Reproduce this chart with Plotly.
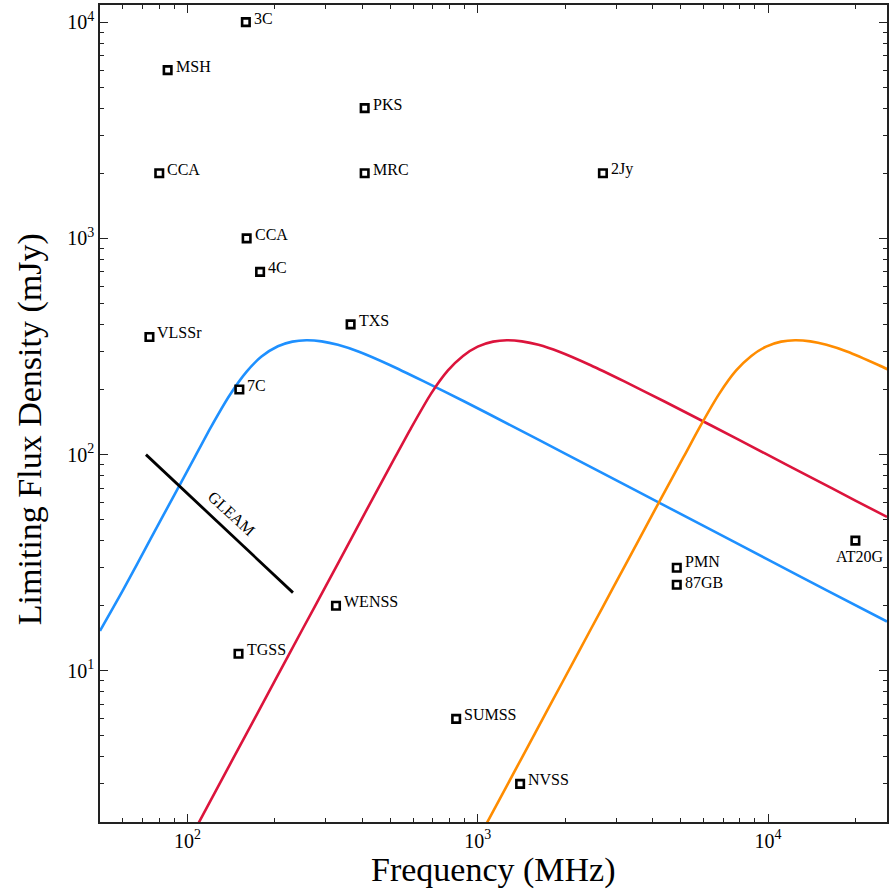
import numpy as np
import plotly.graph_objects as go

# Survey limiting flux densities
survey_names = ["3C", "MSH", "CCA", "CCA", "4C", "VLSSr", "7C", "TXS", "PKS", "MRC",
                "2Jy", "WENSS", "TGSS", "SUMSS", "NVSS", "PMN", "87GB", "AT20G"]
survey_freq = [159, 85.5, 80, 160, 178, 74, 151, 365, 408, 408,
               2700, 325, 150, 843, 1400, 4850, 4850, 20000]      # MHz
survey_flux = [10000, 6000, 2000, 1000, 700, 350, 200, 400, 4000, 2000,
               2000, 20, 12, 6, 3, 30, 25, 40]                     # mJy

# GLEAM sensitivity across its band
gleam_freq = [72, 231]
gleam_flux = [100, 23]

# Peaked-spectrum source tracks
blue_freq = [50, 60, 75, 90, 105, 120, 140, 160, 180, 205, 230, 257, 290, 330, 390,
             500, 650, 900, 1300, 2000, 3500, 6000, 10000, 16000, 25700]
blue_flux = [15.3, 23.6, 41.2, 64.8, 95, 132.7, 188.8, 242, 284, 317, 333, 338, 334,
             322, 299, 259, 218.6, 176, 136.6, 101, 68.3, 46.8, 32.7, 23.5, 16.9]

red_freq = [105, 130, 160, 200, 250, 300, 370, 440, 520, 590, 690, 790, 890, 1000,
            1130, 1260, 1420, 1620, 1910, 2450, 3200, 4400, 6400, 9800, 14000, 20000, 25700]
red_flux = [1.79, 3.06, 5.14, 8.98, 15.7, 24.7, 41.8, 64.5, 97.5, 133, 191, 245, 286,
            316, 333, 338, 334, 322, 299, 259, 218, 176, 136, 101, 78.7, 61.3, 51.5]

orange_freq = [1000, 1280, 1575, 1970, 2460, 2950, 3640, 4330, 5120, 5800, 6790, 7770,
               8760, 9850, 11100, 12400, 14000, 15900, 18800, 24100, 26000]
orange_flux = [1.65, 3.06, 5.14, 9.0, 15.7, 24.7, 41.8, 64.5, 97.5, 133, 191, 245,
               286, 316, 333, 338, 334, 322, 299, 259, 247]

x_major = [100, 1000, 10000]
x_major_text = ["10<sup>2</sup>", "10<sup>3</sup>", "10<sup>4</sup>"]
y_major = [10, 100, 1000, 10000]
y_major_text = ["10<sup>1</sup>", "10<sup>2</sup>", "10<sup>3</sup>", "10<sup>4</sup>"]

FONT = "Liberation Serif"
AXC = "#222222"
LABEL_SIZE = 16

def minor_ticks(lo_exp, hi_exp):
    vals = []
    for e in range(lo_exp, hi_exp + 1):
        for d in range(2, 10):
            vals.append(d * 10 ** e)
    return vals

fig = go.Figure()

for fx, fy, col in [(blue_freq, blue_flux, "#1E90FF"),
                    (red_freq, red_flux, "#DC143C"),
                    (orange_freq, orange_flux, "#FF8C00")]:
    fig.add_trace(go.Scatter(x=fx, y=fy, mode="lines",
                             line=dict(color=col, width=2.6, shape="spline", smoothing=0.6),
                             hoverinfo="skip", showlegend=False))

fig.add_trace(go.Scatter(x=gleam_freq, y=gleam_flux, mode="lines",
                         line=dict(color="black", width=2.8),
                         showlegend=False))

fig.add_trace(go.Scatter(x=survey_freq, y=survey_flux, mode="markers",
                         marker=dict(symbol="square", size=7.5, color="white",
                                     line=dict(color="black", width=2.6)),
                         text=survey_names, showlegend=False))

# Vertical nudges for the two stacked labels at 4850 MHz
label_yshift = {"PMN": 6, "87GB": 2}

annotations = []
for name, f, s in zip(survey_names, survey_freq, survey_flux):
    if name == "AT20G":
        annotations.append(dict(x=np.log10(f), y=np.log10(s), text=name, showarrow=False,
                                xanchor="center", yanchor="top", xshift=5, yshift=-5,
                                font=dict(family=FONT, size=LABEL_SIZE, color="black")))
    else:
        annotations.append(dict(x=np.log10(f), y=np.log10(s), text=name, showarrow=False,
                                xanchor="left", yanchor="middle", xshift=6,
                                yshift=label_yshift.get(name, 4),
                                font=dict(family=FONT, size=LABEL_SIZE, color="black")))

# GLEAM label along its line
gx = np.mean(np.log10(gleam_freq))
gy = np.mean(np.log10(gleam_flux))
annotations.append(dict(x=gx, y=gy, text="GLEAM", showarrow=False, textangle=42.5,
                        xanchor="center", yanchor="middle", xshift=12, yshift=10,
                        font=dict(family=FONT, size=LABEL_SIZE, color="black")))

# Axis titles
annotations.append(dict(xref="paper", yref="paper", x=0.5, y=-(870 - 822) / 817,
                        text="Frequency (MHz)", showarrow=False,
                        xanchor="center", yanchor="middle",
                        font=dict(family=FONT, size=34, color="black")))
annotations.append(dict(xref="paper", yref="paper", x=-70 / 789, y=(822 - 429) / 817,
                        text="Limiting Flux Density (mJy)", showarrow=False, textangle=-90,
                        xanchor="center", yanchor="middle",
                        font=dict(family=FONT, size=34, color="black")))

axis_common = dict(type="log", showgrid=False, zeroline=False, showline=True,
                   linecolor=AXC, linewidth=1.5, mirror="allticks",
                   ticks="inside", ticklen=8, tickwidth=1, tickcolor=AXC,
                   tickfont=dict(family=FONT, size=20, color="black"))

fig.update_xaxes(range=[np.log10(50), np.log10(25700)], tickmode="array",
                 tickvals=x_major, ticktext=x_major_text,
                 minor=dict(tickmode="array", tickvals=minor_ticks(1, 4), ticks="inside",
                            ticklen=4, tickcolor=AXC, tickwidth=1),
                 **axis_common)
fig.update_yaxes(range=[np.log10(2), np.log10(12000)], tickmode="array",
                 tickvals=y_major, ticktext=y_major_text,
                 minor=dict(tickmode="array", tickvals=minor_ticks(0, 4), ticks="inside",
                            ticklen=4, tickcolor=AXC, tickwidth=1),
                 **axis_common)

fig.update_layout(width=892, height=893, margin=dict(l=100, r=3, t=5, b=71),
                  paper_bgcolor="white", plot_bgcolor="white",
                  annotations=annotations, showlegend=False,
                  font=dict(family=FONT))

fig.write_html("out.html")
